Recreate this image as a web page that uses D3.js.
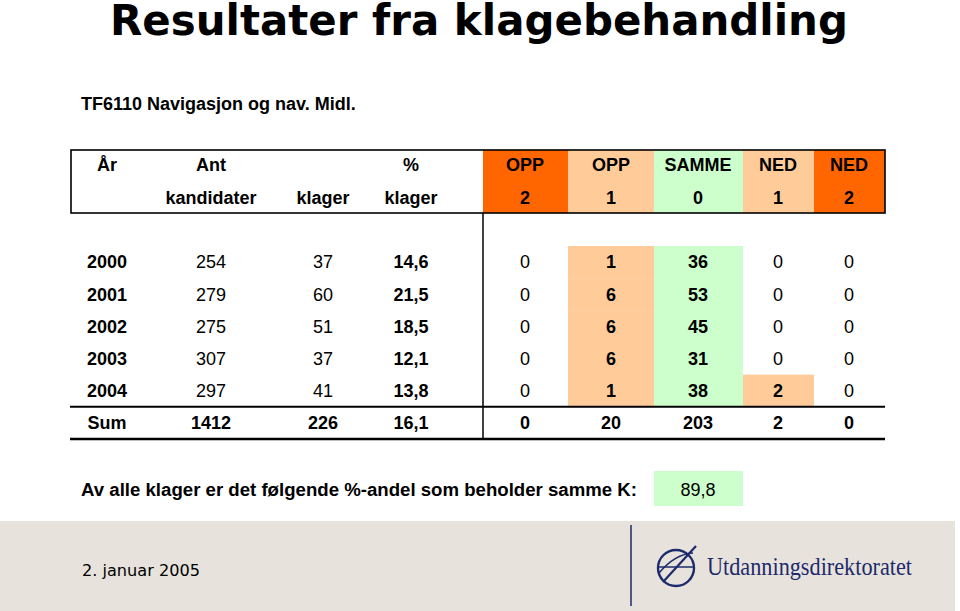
<!DOCTYPE html>
<html><head><meta charset="utf-8">
<script src="https://cdn.jsdelivr.net/npm/d3@7"></script>
<style>body{margin:0;background:#fff}svg{display:block}text{font-family:"Liberation Sans",Arial,sans-serif}</style>
</head><body>
<svg id="c" width="960" height="611"></svg>
<script>
// ---------- data ----------
const title = "Resultater fra klagebehandling";
const subtitle = "TF6110 Navigasjon og nav. Midl.";
const headerRow1 = ["År","Ant","","%","OPP","OPP","SAMME","NED","NED"];
const headerRow2 = ["","kandidater","klager","klager","2","1","0","1","2"];
const years = ["2000","2001","2002","2003","2004"];
const kandidater = [254,279,275,307,297];
const klager = [37,60,51,37,41];
const pctKlager = [14.6,21.5,18.5,12.1,13.8];
const opp2 = [0,0,0,0,0];
const opp1 = [1,6,6,6,1];
const samme = [36,53,45,31,38];
const ned1 = [0,0,0,0,2];
const ned2 = [0,0,0,0,0];
const sumRow = ["Sum",1412,226,16.1,0,20,203,2,0];
const shareText = "Av alle klager er det følgende %-andel som beholder samme K:";
const shareValue = 89.8;
const dateText = "2. januar 2005";
const orgName = "Utdanningsdirektoratet";

// ---------- layout ----------
const colCenters = [107,211,323,411,525,611,698,778,849];
const gradeEdges = [483,568,654,743,814,885];   // edges of columns 4..8
const gradeFill = ["#FF6600","#FFCC99","#CCFFCC","#FFCC99","#FF6600"];
const baseBold = [true,false,false,true];
const navy = "#1D2A6B";

const nf = d3.formatLocale({decimal:",",thousands:"",grouping:[3],currency:["",""]});
const f1 = nf.format(".1f");
const cols = d3.range(9);

const svg = d3.select("#c");
const x = d3.scaleOrdinal().domain(cols).range(colCenters);
const xe = d3.scaleOrdinal().domain(d3.range(6)).range(gradeEdges);
const y = d3.scaleBand().domain(d3.range(6)).range([246, 439]).paddingInner(0);

// title
svg.append("text").attr("x",479).attr("y",35).attr("text-anchor","middle")
  .style("font-family","'DejaVu Sans',sans-serif").style("font-weight","bold").style("font-size","42px")
  .attr("textLength",738).attr("lengthAdjust","spacingAndGlyphs").text(title);
svg.append("text").attr("x",81).attr("y",110).style("font-weight","bold").style("font-size","18px").text(subtitle);

// header box
const hTop = 150, hBot = 213, hLeft = 71, hRight = 885;
svg.selectAll("rect.hcell").data(gradeFill).join("rect").attr("class","hcell")
  .attr("x",(d,i)=>xe(i)).attr("width",(d,i)=>xe(i+1)-xe(i))
  .attr("y",hTop).attr("height",hBot-hTop).attr("fill",d=>d);
svg.append("rect").attr("x",hLeft).attr("y",hTop).attr("width",hRight-hLeft).attr("height",hBot-hTop)
  .attr("fill","none").attr("stroke","#000").attr("stroke-width",1.6);
[[headerRow1,165],[headerRow2,198]].forEach(([row,yy])=>{
  svg.selectAll(null).data(row).join("text")
    .attr("x",(d,i)=>x(i)).attr("y",yy).attr("dy","0.35em").attr("text-anchor","middle")
    .style("font-weight","bold").style("font-size","18px").text(d=>d);
});

// body rows
const rows = years.map((yr,i)=>[yr,kandidater[i],klager[i],pctKlager[i],opp2[i],opp1[i],samme[i],ned1[i],ned2[i]]);
// coloured cells where grade value > 0
const cells = [];
rows.forEach((r,ri)=>{ for(let c=4;c<9;c++){ if(r[c]>0) cells.push({ri,c}); } });
svg.selectAll("rect.bcell").data(cells).join("rect").attr("class","bcell")
  .attr("x",d=>xe(d.c-4)).attr("width",d=>xe(d.c-3)-xe(d.c-4))
  .attr("y",d=>y(d.ri)).attr("height",y.bandwidth()+0.5).attr("fill",d=>gradeFill[d.c-4]);

const fmt = (v,c)=> c===3 ? f1(v) : String(v);
rows.concat([sumRow]).forEach((r,ri)=>{
  svg.selectAll(null).data(r).join("text")
    .attr("x",(d,c)=>x(c)).attr("y",y(ri)+y.bandwidth()/2).attr("dy","0.35em").attr("text-anchor","middle")
    .style("font-size","18px")
    .style("font-weight",(d,c)=> ri===5 ? "bold" : (c<4 ? (baseBold[c]?"bold":"normal") : (d>0?"bold":"normal")))
    .text((d,c)=>fmt(d,c));
});

// lines
svg.append("line").attr("x1",hLeft-1).attr("x2",hRight).attr("y1",y(5)).attr("y2",y(5)).attr("stroke","#000").attr("stroke-width",2);
svg.append("line").attr("x1",hLeft-1).attr("x2",hRight).attr("y1",y(5)+y.bandwidth()).attr("y2",y(5)+y.bandwidth()).attr("stroke","#000").attr("stroke-width",2.5);
svg.append("line").attr("x1",xe(0)).attr("x2",xe(0)).attr("y1",hBot).attr("y2",y(5)+y.bandwidth()).attr("stroke","#000").attr("stroke-width",1.5);

// share line
svg.append("text").attr("x",81).attr("y",490).attr("dy","0.35em").style("font-weight","bold").style("font-size","18px")
  .attr("textLength",556).attr("lengthAdjust","spacingAndGlyphs").text(shareText);
svg.append("rect").attr("x",xe(2)).attr("width",xe(3)-xe(2)).attr("y",471).attr("height",35).attr("fill",gradeFill[2]);
svg.append("text").attr("x",x(6)).attr("y",490).attr("dy","0.35em").attr("text-anchor","middle").style("font-size","18px").text(f1(shareValue));

// footer
svg.append("rect").attr("x",0).attr("y",521).attr("width",955).attr("height",90).attr("fill","#E7E3DC");
svg.append("text").attr("x",82).attr("y",576).style("font-family","'DejaVu Sans',sans-serif").style("font-size","16px")
  .attr("textLength",118).attr("lengthAdjust","spacingAndGlyphs").text(dateText);
svg.append("line").attr("x1",631).attr("x2",631).attr("y1",525).attr("y2",606).attr("stroke",navy).attr("stroke-width",1.5);
const logo = svg.append("g").attr("fill","none").attr("stroke",navy).attr("stroke-width",2.4);
logo.append("circle").attr("cx",676).attr("cy",568).attr("r",18);
logo.append("line").attr("x1",658).attr("x2",694).attr("y1",567).attr("y2",567).attr("stroke-width",1.6);
logo.append("path").attr("d","M659,573 Q675,554 693,553").attr("stroke-width",1.6);
logo.append("line").attr("x1",663).attr("y1",582).attr("x2",696).attr("y2",546).attr("stroke-width",2.2);
svg.append("text").attr("x",707).attr("y",575).attr("fill",navy)
  .style("font-family","'Liberation Serif','DejaVu Serif',serif").style("font-size","26px")
  .attr("textLength",205).attr("lengthAdjust","spacingAndGlyphs").text(orgName);
</script>
</body></html>
